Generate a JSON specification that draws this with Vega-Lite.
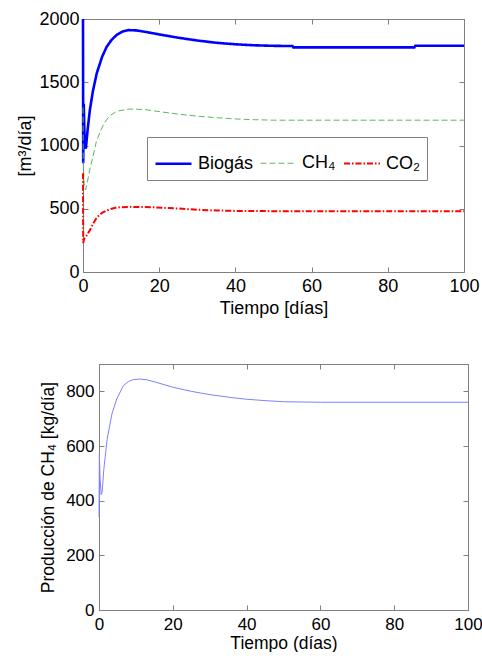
{
  "$schema": "https://vega.github.io/schema/vega-lite/v6.json",
  "padding": {"left": 0, "top": 9, "right": 0, "bottom": 0},
  "background": "white",
  "config": {
    "font": "Liberation Sans",
    "view": {"stroke": "#808080", "strokeWidth": 1},
    "axis": {
      "grid": false,
      "domainColor": "#808080",
      "tickColor": "#808080",
      "tickSize": -5,
      "labelColor": "#000000",
      "titleColor": "#000000",
      "titleFontWeight": "normal",
      "labelFlush": false,
      "labelOverlap": false,
      "format": "d",
      "labelFont": "Liberation Sans",
      "titleFont": "Liberation Sans"
    }
  },
  "datasets": {
    "gas": [
      {"t": 0, "v": 2000, "s": "Biogás"},
      {"t": 0.05, "v": 860, "s": "Biogás"},
      {"t": 0.2, "v": 1330, "s": "Biogás"},
      {"t": 0.45, "v": 1000, "s": "Biogás"},
      {"t": 0.75, "v": 975, "s": "Biogás"},
      {"t": 1.2, "v": 1120, "s": "Biogás"},
      {"t": 1.8, "v": 1280, "s": "Biogás"},
      {"t": 2.6, "v": 1430, "s": "Biogás"},
      {"t": 3.6, "v": 1570, "s": "Biogás"},
      {"t": 5, "v": 1700, "s": "Biogás"},
      {"t": 6.2, "v": 1780, "s": "Biogás"},
      {"t": 7.5, "v": 1835, "s": "Biogás"},
      {"t": 8.8, "v": 1873, "s": "Biogás"},
      {"t": 10.3, "v": 1900, "s": "Biogás"},
      {"t": 11.9, "v": 1912, "s": "Biogás"},
      {"t": 14, "v": 1910, "s": "Biogás"},
      {"t": 17, "v": 1895, "s": "Biogás"},
      {"t": 20, "v": 1878, "s": "Biogás"},
      {"t": 25, "v": 1852, "s": "Biogás"},
      {"t": 30, "v": 1830, "s": "Biogás"},
      {"t": 35, "v": 1812, "s": "Biogás"},
      {"t": 40, "v": 1800, "s": "Biogás"},
      {"t": 45, "v": 1792, "s": "Biogás"},
      {"t": 50, "v": 1788, "s": "Biogás"},
      {"t": 55, "v": 1786, "s": "Biogás"},
      {"t": 55.2, "v": 1776, "s": "Biogás"},
      {"t": 70, "v": 1776, "s": "Biogás"},
      {"t": 87, "v": 1776, "s": "Biogás"},
      {"t": 87.2, "v": 1788, "s": "Biogás"},
      {"t": 100, "v": 1788, "s": "Biogás"},
      {"t": 0, "v": 1300, "s": "CH₄"},
      {"t": 0.05, "v": 870, "s": "CH₄"},
      {"t": 0.3, "v": 700, "s": "CH₄"},
      {"t": 0.7, "v": 650, "s": "CH₄"},
      {"t": 1.2, "v": 720, "s": "CH₄"},
      {"t": 2, "v": 840, "s": "CH₄"},
      {"t": 2.6, "v": 910, "s": "CH₄"},
      {"t": 3.5, "v": 1030, "s": "CH₄"},
      {"t": 4.4, "v": 1100, "s": "CH₄"},
      {"t": 5.5, "v": 1175, "s": "CH₄"},
      {"t": 7, "v": 1235, "s": "CH₄"},
      {"t": 9, "v": 1272, "s": "CH₄"},
      {"t": 12, "v": 1288, "s": "CH₄"},
      {"t": 16, "v": 1285, "s": "CH₄"},
      {"t": 20, "v": 1268, "s": "CH₄"},
      {"t": 25, "v": 1248, "s": "CH₄"},
      {"t": 30, "v": 1232, "s": "CH₄"},
      {"t": 35, "v": 1220, "s": "CH₄"},
      {"t": 40, "v": 1210, "s": "CH₄"},
      {"t": 45, "v": 1204, "s": "CH₄"},
      {"t": 50, "v": 1200, "s": "CH₄"},
      {"t": 100, "v": 1200, "s": "CH₄"},
      {"t": 0, "v": 780, "s": "CO₂"},
      {"t": 0.05, "v": 230, "s": "CO₂"},
      {"t": 0.3, "v": 262, "s": "CO₂"},
      {"t": 0.6, "v": 272, "s": "CO₂"},
      {"t": 1, "v": 290, "s": "CO₂"},
      {"t": 1.8, "v": 330, "s": "CO₂"},
      {"t": 2.6, "v": 380, "s": "CO₂"},
      {"t": 3.6, "v": 430, "s": "CO₂"},
      {"t": 5, "v": 468, "s": "CO₂"},
      {"t": 6.2, "v": 487, "s": "CO₂"},
      {"t": 7.5, "v": 500, "s": "CO₂"},
      {"t": 8.8, "v": 510, "s": "CO₂"},
      {"t": 12, "v": 515, "s": "CO₂"},
      {"t": 18, "v": 512, "s": "CO₂"},
      {"t": 25, "v": 502, "s": "CO₂"},
      {"t": 30, "v": 492, "s": "CO₂"},
      {"t": 35, "v": 487, "s": "CO₂"},
      {"t": 40, "v": 483, "s": "CO₂"},
      {"t": 50, "v": 481, "s": "CO₂"},
      {"t": 100, "v": 480, "s": "CO₂"}
    ],
    "ch4": [
      {"t": 0, "v": 340},
      {"t": 0.1, "v": 570},
      {"t": 0.3, "v": 480},
      {"t": 0.6, "v": 422},
      {"t": 0.85, "v": 430},
      {"t": 1.3, "v": 514},
      {"t": 2.2, "v": 624},
      {"t": 3.5, "v": 717},
      {"t": 4.8, "v": 772},
      {"t": 6.6, "v": 821},
      {"t": 8, "v": 836},
      {"t": 9.3, "v": 843},
      {"t": 11, "v": 845},
      {"t": 13, "v": 842},
      {"t": 15, "v": 835},
      {"t": 20, "v": 815},
      {"t": 25, "v": 800},
      {"t": 30, "v": 788},
      {"t": 36, "v": 777},
      {"t": 40, "v": 771},
      {"t": 45, "v": 766},
      {"t": 50, "v": 762},
      {"t": 60, "v": 760},
      {"t": 100, "v": 760}
    ]
  },
  "spacing": 45,
  "vconcat": [
    {
      "spacing": 15,
      "hconcat": [
        {"width": 1, "height": 1, "data": {"values": []}, "mark": "point", "view": {"stroke": null}},
        {
          "width": 381,
          "height": 253,
          "data": {"name": "gas"},
          "resolve": {"axis": {"x": "independent", "y": "independent"}},
          "encoding": {
            "x": {"field": "t", "type": "quantitative", "scale": {"domain": [0, 100], "nice": false}},
            "y": {"field": "v", "type": "quantitative", "scale": {"domain": [0, 2000], "nice": false}},
            "color": {
              "field": "s", "type": "nominal",
              "scale": {"domain": ["Biogás", "CH₄", "CO₂"], "range": ["#0000ff", "#5cb85c", "#ff0000"]},
              "legend": {
                "orient": "none", "legendX": 147, "legendY": 118, "direction": "horizontal",
                "title": null, "symbolType": "stroke", "symbolSize": 1296,
                "labelFontSize": 18, "labelColor": "#000000", "labelOffset": 5,
                "columnPadding": 4, "padding": 7, "strokeColor": "#808080", "fillColor": "white"
              }
            },
            "strokeDash": {
              "field": "s", "type": "nominal",
              "scale": {"domain": ["Biogás", "CH₄", "CO₂"], "range": [[1, 0], [6, 3], [6, 2, 1.5, 2]]}
            },
            "strokeWidth": {
              "field": "s", "type": "nominal",
              "scale": {"type": "ordinal", "domain": ["Biogás", "CH₄", "CO₂"], "range": [2.6, 1, 2]}
            }
          },
          "layer": [
            {
              "transform": [{"filter": "datum.s === 'Biogás'"}],
              "mark": {"type": "line", "interpolate": "linear"},
              "encoding": {
                "x": {"field": "t", "type": "quantitative", "title": "Tiempo [días]",
                  "axis": {"values": [0, 20, 40, 60, 80, 100], "labelFontSize": 18, "titleFontSize": 18, "labelPadding": 10, "titlePadding": 4}},
                "y": {"field": "v", "type": "quantitative", "title": "[m³/día]",
                  "axis": {"values": [0, 500, 1000, 1500, 2000], "labelFontSize": 18, "titleFontSize": 18, "labelPadding": 9, "titlePadding": 4}}
              }
            },
            {
              "transform": [{"filter": "datum.s !== 'Biogás'"}],
              "mark": {"type": "line", "interpolate": "linear"},
              "encoding": {
                "x": {"field": "t", "type": "quantitative",
                  "axis": {"orient": "top", "values": [0, 20, 40, 60, 80, 100], "labels": false, "title": null}},
                "y": {"field": "v", "type": "quantitative",
                  "axis": {"orient": "right", "values": [0, 500, 1000, 1500, 2000], "labels": false, "title": null}}
              }
            }
          ]
        }
      ]
    },
    {
      "spacing": 38,
      "hconcat": [
        {"width": 1, "height": 1, "data": {"values": []}, "mark": "point", "view": {"stroke": null}},
        {
          "width": 369,
          "height": 246,
          "data": {"name": "ch4"},
          "resolve": {"axis": {"x": "independent", "y": "independent"}},
          "encoding": {
            "x": {"field": "t", "type": "quantitative", "scale": {"domain": [0, 100], "nice": false}},
            "y": {"field": "v", "type": "quantitative", "scale": {"domain": [0, 900], "nice": false}}
          },
          "layer": [
            {
              "transform": [{"filter": "datum.t <= 50"}],
              "mark": {"type": "line", "color": "#8080ff", "strokeWidth": 1},
              "encoding": {
                "x": {"field": "t", "type": "quantitative", "title": "Tiempo (días)",
                  "axis": {"values": [0, 20, 40, 60, 80, 100], "labelFontSize": 17, "titleFontSize": 17.5, "labelPadding": 11, "titlePadding": 2}},
                "y": {"field": "v", "type": "quantitative", "title": "Producción de CH₄ [kg/día]",
                  "axis": {"values": [0, 200, 400, 600, 800], "labelFontSize": 17, "titleFontSize": 17.5, "labelPadding": 10, "titlePadding": 8}}
              }
            },
            {
              "transform": [{"filter": "datum.t >= 50"}],
              "mark": {"type": "line", "color": "#8080ff", "strokeWidth": 1},
              "encoding": {
                "x": {"field": "t", "type": "quantitative",
                  "axis": {"orient": "top", "values": [0, 20, 40, 60, 80, 100], "labels": false, "title": null}},
                "y": {"field": "v", "type": "quantitative",
                  "axis": {"orient": "right", "values": [0, 200, 400, 600, 800], "labels": false, "title": null}}
              }
            }
          ]
        }
      ]
    }
  ]
}
